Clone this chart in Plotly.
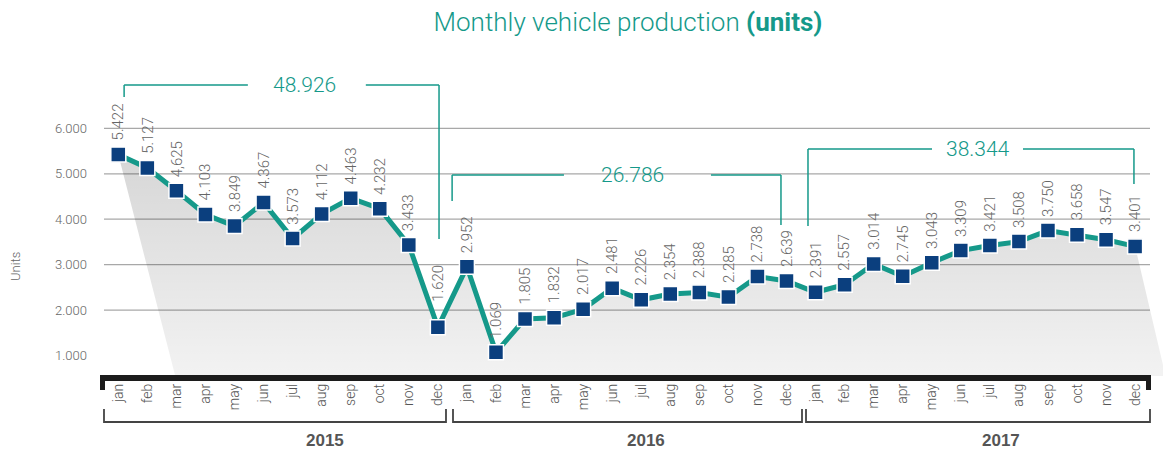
import plotly.graph_objects as go

# ---------------- data ----------------
months = ['jan', 'feb', 'mar', 'apr', 'may', 'jun', 'jul', 'aug', 'sep', 'oct', 'nov', 'dec']
years = ['2015', '2016', '2017']
values_2015 = [5422, 5127, 4625, 4103, 3849, 4367, 3573, 4112, 4463, 4232, 3433, 1620]
values_2016 = [2952, 1069, 1805, 1832, 2017, 2481, 2226, 2354, 2388, 2285, 2738, 2639]
values_2017 = [2391, 2557, 3014, 2745, 3043, 3309, 3421, 3508, 3750, 3658, 3547, 3401]
value_labels = ['5.422', '5.127', '4,625', '4.103', '3.849', '4.367', '3.573', '4.112', '4.463', '4.232', '3.433', '1.620',
                '2.952', '1.069', '1.805', '1.832', '2.017', '2.481', '2.226', '2.354', '2.388', '2.285', '2.738', '2.639',
                '2.391', '2.557', '3.014', '2.745', '3.043', '3.309', '3.421', '3.508', '3.750', '3.658', '3.547', '3.401']
y_ticks = [1000, 2000, 3000, 4000, 5000, 6000]
grid_values = [2000, 3000, 4000, 5000, 6000]

series = [values_2015, values_2016, values_2017]
values = values_2015 + values_2016 + values_2017
x_idx = list(range(len(values)))
month_text = months * len(years)

def fmt(n):
    return f"{n:,}".replace(",", ".")

# ---------------- style ----------------
W, H = 1163, 453
ML, MR, MT, MB = 100, 0, 60, 77
PW, PH = W - ML - MR, H - MT - MB
XR = [-0.630, 35.96]
YR = [548, 7505]
TEAL = '#15998a'
BLUE = '#0b3f7e'
GREY = '#666666'
DARK = '#1c1c1c'
FONT = 'Roboto, Liberation Sans, Arial, sans-serif'
BOLDFONT = 'Liberation Sans, Arial, sans-serif'

def px_x(px):  # pixel -> paper x
    return (px - ML) / PW

def px_y(py):  # pixel -> paper y
    return (H - MB - py) / PH

fig = go.Figure()

# shadow / gradient area under the line (skewed toward the bottom right)
fig.add_trace(go.Scatter(
    x=x_idx + [36.05, 1.96],
    y=values + [YR[0], YR[0]],
    mode='lines', fill='toself', line=dict(width=0, color='rgba(0,0,0,0)'),
    fillgradient=dict(type='vertical', start=YR[0], stop=max(values),
                      colorscale=[[0, 'rgba(0,0,0,0.05)'], [1, 'rgba(0,0,0,0.16)']]),
    hoverinfo='skip', showlegend=False))

# main line
fig.add_trace(go.Scatter(
    x=x_idx, y=values, mode='lines+markers',
    line=dict(color=TEAL, width=5),
    marker=dict(symbol='square', size=15, color=BLUE, line=dict(color='white', width=1.5)),
    showlegend=False))

shapes = []
annotations = []

# gridlines
for g in grid_values:
    shapes.append(dict(type='line', xref='paper', yref='y', x0=px_x(104), x1=px_x(1150), y0=g, y1=g,
                       line=dict(color='#a8a8a8', width=1.2), layer='below'))

# value labels (raised a bit more at deep V-shaped dips so they clear the line)
for i, (v, t) in enumerate(zip(values, value_labels)):
    nb = [values[j] for j in (i - 1, i + 1) if 0 <= j < len(values)]
    deep_dip = len(nb) == 2 and min(nb) - v > 1000
    annotations.append(dict(x=i, y=v, xref='x', yref='y', text=t, showarrow=False, textangle=-90,
                            xanchor='center', yanchor='bottom', yshift=24 if deep_dip else 12,
                            font=dict(family=FONT, size=15, color=GREY, weight=300)))

# totals brackets (x in months, y in units)
brackets = [
    # x_left, x_right, y_top, y_left_end, y_right_end, text_x, gap_lo, gap_hi
    (0.20, 11.04, 6954, 6690, 3564, 6.40, 4.46, 8.52),
    (11.49, 22.81, 4973, 4400, 3872, 17.70, 15.34, 20.40),
    (23.74, 34.96, 5545, 3850, 4775, 29.60, 28.01, 31.14),
]
for (xl, xr, yt, yl, yr, tx, g0, g1), s in zip(brackets, series):
    for seg in [(xl, yl, xl, yt), (xl, yt, g0, yt), (g1, yt, xr, yt), (xr, yt, xr, yr)]:
        shapes.append(dict(type='line', xref='x', yref='y', x0=seg[0], y0=seg[1], x1=seg[2], y1=seg[3],
                           line=dict(color=TEAL, width=1.5)))
    annotations.append(dict(x=tx, y=yt, xref='x', yref='y', text=fmt(sum(s)), showarrow=False,
                            xanchor='center', yanchor='middle',
                            font=dict(family=FONT, size=21, color=TEAL, weight=300)))

# black axis bar with end hooks
bar = [(100, 375), (1151, 375), (1151, 390), (1146, 390), (1146, 381), (105, 381), (105, 390), (100, 390)]
path = 'M ' + ' L '.join(f'{px_x(a):.5f},{px_y(b):.5f}' for a, b in bar) + ' Z'
shapes.append(dict(type='path', xref='paper', yref='paper', path=path, fillcolor=DARK,
                   line=dict(color=DARK, width=0)))

# year brackets and labels
year_spans = [(104, 446), (453, 802), (806, 1150)]
year_label_x = [325, 646, 1001]
for (a, b), lx, yr in zip(year_spans, year_label_x, years):
    p = (f'M {px_x(a):.5f},{px_y(409):.5f} L {px_x(a):.5f},{px_y(422):.5f} '
         f'L {px_x(b):.5f},{px_y(422):.5f} L {px_x(b):.5f},{px_y(409):.5f}')
    shapes.append(dict(type='path', xref='paper', yref='paper', path=p,
                       line=dict(color='#444444', width=1.8)))
    annotations.append(dict(x=px_x(lx), y=px_y(440), xref='paper', yref='paper', text=f'<b>{yr}</b>',
                            showarrow=False, xanchor='center', yanchor='middle',
                            font=dict(family=BOLDFONT, size=17, color='#555555')))

# y axis title
annotations.append(dict(x=px_x(15), y=px_y(267), xref='paper', yref='paper', text='Units', showarrow=False,
                        textangle=-90, xanchor='center', yanchor='middle',
                        font=dict(family=FONT, size=13, color=GREY, weight=300)))

fig.update_layout(
    width=W, height=H,
    margin=dict(l=ML, r=MR, t=MT, b=MB, pad=0),
    paper_bgcolor='white', plot_bgcolor='white',
    title=dict(text='Monthly vehicle production <b>(units)</b>', xref='paper', x=px_x(628), xanchor='center',
               y=1 - 22 / H, yanchor='middle', yref='container',
               font=dict(family=FONT, size=26, color=TEAL, weight=300)),
    xaxis=dict(range=XR, tickmode='array', tickvals=x_idx, ticktext=month_text, tickangle=-90,
               showgrid=False, zeroline=False, showline=False, ticks='', ticklabelstandoff=4,
               tickfont=dict(family=FONT, size=14, color='#555555', weight=300), fixedrange=True),
    yaxis=dict(range=YR, tickmode='array', tickvals=y_ticks, ticktext=[fmt(v) for v in y_ticks],
               showgrid=False, zeroline=False, showline=False, ticks='', ticklabelstandoff=12,
               tickfont=dict(family=FONT, size=13, color=GREY, weight=300), fixedrange=True),
    shapes=shapes, annotations=annotations,
    showlegend=False,
)

fig.write_html('out.html', config={'displayModeBar': False},
               post_script="document.body.style.margin='0';document.body.style.padding='0';")
